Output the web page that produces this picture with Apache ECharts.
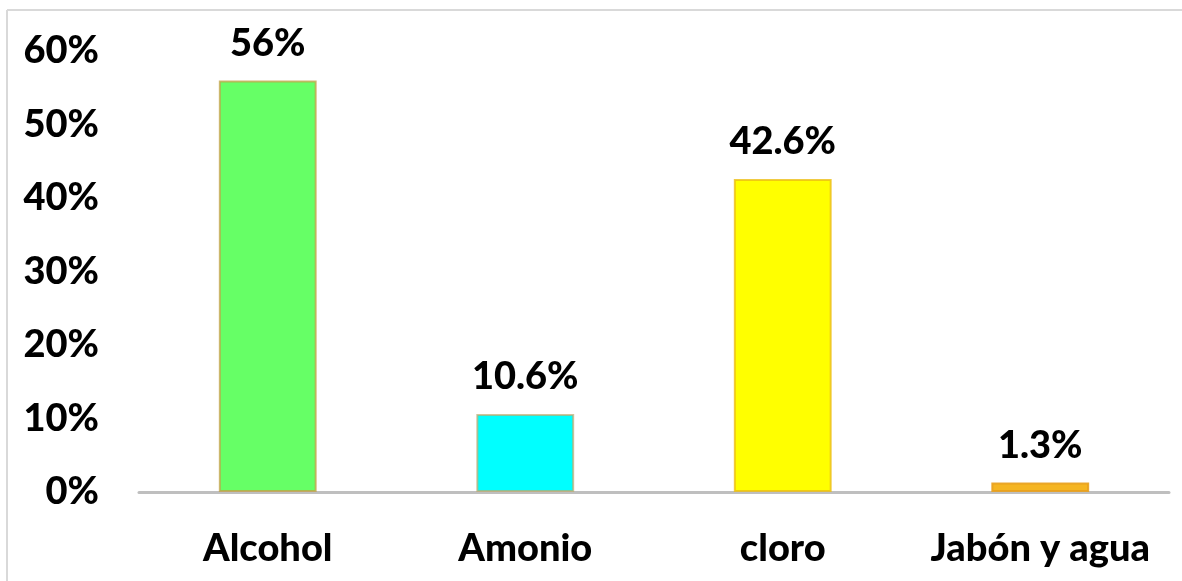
<!DOCTYPE html>
<html>
<head>
<meta charset="utf-8">
<script src="https://cdn.jsdelivr.net/npm/echarts@6/dist/echarts.min.js"></script>
<style>
  html, body { margin: 0; padding: 0; background: #fff; }
  #chart { width: 1182px; height: 581px; }
</style>
</head>
<body>
<div id="chart"></div>
<script>
// Productos de limpieza utilizados (%)
const categories = ['Alcohol', 'Amonio', 'cloro', 'Jabón y agua'];
const values = [56, 10.6, 42.6, 1.3];
const valueLabels = ['56%', '10.6%', '42.6%', '1.3%'];
const barColors = ['#66FF66', '#00FFFF', '#FFFF00', '#F5B522'];
const barEdges = ['rgba(196,160,70,0.75)', 'rgba(190,170,110,0.7)', 'rgba(236,190,20,0.8)', 'rgba(232,160,30,0.9)'];

const FONT = 'Lato, "Open Sans", sans-serif';
const WEIGHT = 900;
const chart = echarts.init(document.getElementById('chart'), null, { renderer: 'canvas' });

chart.setOption({
  backgroundColor: '#fff',
  animation: false,
  grid: { left: 139, right: 13, top: 51, bottom: 89, containLabel: false },
  graphic: [
    { type: 'line', shape: { x1: 7, y1: 10, x2: 1182, y2: 10 }, style: { stroke: '#D9D9D9', lineWidth: 2 } },
    { type: 'line', shape: { x1: 7, y1: 10, x2: 7, y2: 581 }, style: { stroke: '#D9D9D9', lineWidth: 2 } }
  ],
  xAxis: {
    type: 'category',
    data: categories,
    axisLine: { lineStyle: { color: '#BFBFBF', width: 3 } },
    axisTick: { show: false },
    axisLabel: { interval: 0, color: '#000', fontFamily: FONT, fontWeight: WEIGHT, fontSize: 38, margin: 38 }
  },
  yAxis: {
    type: 'value',
    min: 0, max: 60, interval: 10,
    axisLine: { show: false },
    axisTick: { show: false },
    splitLine: { show: false },
    axisLabel: {
      color: '#000', fontFamily: FONT, fontWeight: WEIGHT, fontSize: 38, margin: 40,
      formatter: v => v + '%'
    }
  },
  series: [{
    type: 'bar',
    barWidth: '38%',
    data: values.map((v, i) => ({
      value: v,
      itemStyle: { color: barColors[i], borderColor: barEdges[i], borderWidth: 2 },
      label: { formatter: valueLabels[i] }
    })),
    label: {
      show: true, position: 'top', distance: 18,
      color: '#000', fontFamily: FONT, fontWeight: WEIGHT, fontSize: 38
    }
  }]
});
</script>
</body>
</html>
